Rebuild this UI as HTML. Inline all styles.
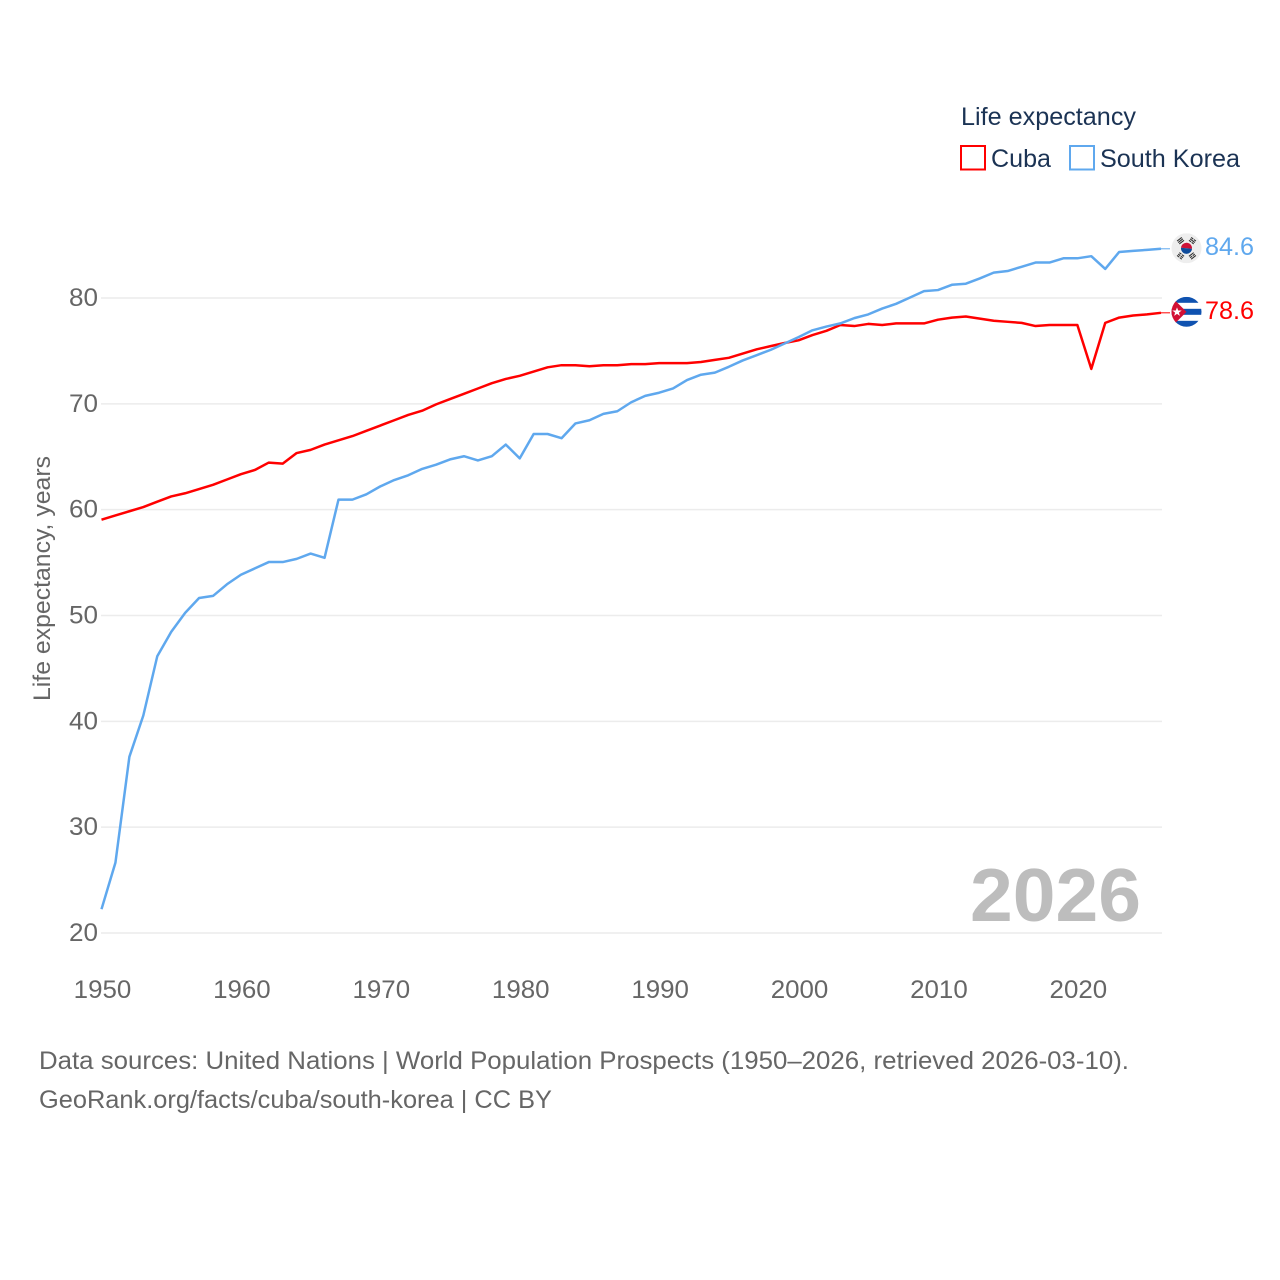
<!DOCTYPE html>
<html lang="en">
<head>
<meta charset="utf-8">
<title>Life expectancy: Cuba and South Korea</title>
<style>
html,body{margin:0;padding:0;background:#fff;}
svg{display:block;font-family:"Liberation Sans",sans-serif;}
</style>
</head>
<body>
<svg id="chart" width="1280" height="1280" viewBox="0 0 1280 1280" xmlns="http://www.w3.org/2000/svg">
  <defs>
    <clipPath id="flag-clip"><circle cx="0" cy="0" r="15"></circle></clipPath>
  </defs>
  <rect width="1280" height="1280" fill="#ffffff"></rect>

  <g>
    <text x="961" y="125" font-size="25" fill="#1b3354" textLength="175" lengthAdjust="spacingAndGlyphs">Life expectancy</text>
    <rect x="961" y="146" width="24" height="23.5" fill="#fff" stroke="#ff0000" stroke-width="2"></rect>
    <text x="991" y="167" font-size="25" fill="#1b3354" textLength="60" lengthAdjust="spacingAndGlyphs">Cuba</text>
    <rect x="1070" y="146" width="24" height="23.5" fill="#fff" stroke="#5fa8ee" stroke-width="2"></rect>
    <text x="1100" y="167" font-size="25" fill="#1b3354" textLength="140" lengthAdjust="spacingAndGlyphs">South Korea</text>
  </g>

  <text transform="translate(50,701) rotate(-90)" font-size="24.5" fill="#666666" textLength="245" lengthAdjust="spacingAndGlyphs">Life expectancy, years</text>

  <g id="grid"></g>
  <g id="y-axis"></g>
  <g id="x-axis"></g>

  <text x="1141" y="921" text-anchor="end" font-size="75" font-weight="700" fill="#bdbdbd" textLength="171" lengthAdjust="spacingAndGlyphs">2026</text>

  <g id="series"></g>

  <g id="flag-south-korea">
    <g clip-path="url(#flag-clip)">
      <rect x="-15" y="-15" width="30" height="30" fill="#eeeeee"></rect>
      <path d="M-5.5 -0.5 A5.5 5.5 0 0 1 5.5 0.5 Z" fill="#cd1238"></path>
      <path d="M-5.5 -0.5 A5.5 5.5 0 0 0 5.5 0.5 Z" fill="#0f4c9c"></path>
      <g fill="#333">
        <g transform="rotate(-38)">
          <rect x="-3" y="-12" width="6" height="1.1"></rect>
          <rect x="-3" y="-10.2" width="6" height="1.1"></rect>
          <rect x="-3" y="-8.4" width="6" height="1.1"></rect>
        </g>
        <g transform="rotate(38)">
          <rect x="-3" y="-12" width="2.6" height="1.1"></rect>
          <rect x="0.4" y="-12" width="2.6" height="1.1"></rect>
          <rect x="-3" y="-10.2" width="6" height="1.1"></rect>
          <rect x="-3" y="-8.4" width="2.6" height="1.1"></rect>
          <rect x="0.4" y="-8.4" width="2.6" height="1.1"></rect>
        </g>
        <g transform="rotate(142)">
          <rect x="-3" y="-12" width="6" height="1.1"></rect>
          <rect x="-3" y="-10.2" width="2.6" height="1.1"></rect>
          <rect x="0.4" y="-10.2" width="2.6" height="1.1"></rect>
          <rect x="-3" y="-8.4" width="6" height="1.1"></rect>
        </g>
        <g transform="rotate(218)">
          <rect x="-3" y="-12" width="2.6" height="1.1"></rect>
          <rect x="0.4" y="-12" width="2.6" height="1.1"></rect>
          <rect x="-3" y="-10.2" width="2.6" height="1.1"></rect>
          <rect x="0.4" y="-10.2" width="2.6" height="1.1"></rect>
          <rect x="-3" y="-8.4" width="2.6" height="1.1"></rect>
          <rect x="0.4" y="-8.4" width="2.6" height="1.1"></rect>
        </g>
      </g>
    </g>
  </g>

  <g id="flag-cuba">
    <g clip-path="url(#flag-clip)">
      <rect x="-15" y="-15" width="30" height="30" fill="#ffffff"></rect>
      <rect x="-15" y="-15" width="30" height="6" fill="#0f52b0"></rect>
      <rect x="-15" y="-3" width="30" height="6" fill="#0f52b0"></rect>
      <rect x="-15" y="9" width="30" height="6" fill="#0f52b0"></rect>
      <polygon points="-15,-15 0,0 -15,15" fill="#d21034"></polygon>
      <polygon points="-9.5,-4.5 -8.3,-1.3 -4.8,-1.3 -7.6,0.8 -6.6,4 -9.5,2.1 -12.4,4 -11.4,0.8 -14.2,-1.3 -10.7,-1.3" fill="#ffffff"></polygon>
    </g>
  </g>

  <g id="end-labels"></g>

  <g>
    <text x="39" y="1069" font-size="25" fill="#666666" textLength="1090" lengthAdjust="spacingAndGlyphs">Data sources: United Nations | World Population Prospects (1950–2026, retrieved 2026-03-10).</text>
    <text x="39" y="1108" font-size="25" fill="#666666" textLength="513" lengthAdjust="spacingAndGlyphs">GeoRank.org/facts/cuba/south-korea | CC BY</text>
  </g>
</svg>

<script>
const years = [1950,1951,1952,1953,1954,1955,1956,1957,1958,1959,1960,1961,1962,1963,1964,1965,1966,1967,1968,1969,1970,1971,1972,1973,1974,1975,1976,1977,1978,1979,1980,1981,1982,1983,1984,1985,1986,1987,1988,1989,1990,1991,1992,1993,1994,1995,1996,1997,1998,1999,2000,2001,2002,2003,2004,2005,2006,2007,2008,2009,2010,2011,2012,2013,2014,2015,2016,2017,2018,2019,2020,2021,2022,2023,2024,2025,2026];
const cubaValues = [59.05,59.45,59.85,60.25,60.75,61.25,61.55,61.95,62.35,62.85,63.35,63.75,64.45,64.35,65.35,65.65,66.15,66.55,66.95,67.45,67.95,68.45,68.95,69.35,69.95,70.45,70.95,71.45,71.95,72.35,72.65,73.05,73.45,73.65,73.65,73.55,73.65,73.65,73.75,73.75,73.85,73.85,73.85,73.95,74.15,74.35,74.75,75.15,75.45,75.75,76.0,76.5,76.9,77.45,77.35,77.55,77.45,77.6,77.6,77.6,77.95,78.15,78.25,78.05,77.85,77.75,77.65,77.35,77.45,77.45,77.45,73.3,77.65,78.15,78.35,78.45,78.6];
const koreaValues = [22.25,26.65,36.65,40.55,46.15,48.45,50.25,51.65,51.85,52.95,53.85,54.45,55.05,55.05,55.35,55.85,55.45,60.95,60.95,61.45,62.2,62.8,63.25,63.85,64.25,64.75,65.05,64.65,65.05,66.15,64.85,67.15,67.15,66.75,68.15,68.45,69.05,69.3,70.15,70.75,71.05,71.45,72.25,72.75,72.95,73.5,74.1,74.6,75.1,75.7,76.3,76.95,77.3,77.6,78.1,78.45,79.0,79.45,80.05,80.65,80.75,81.25,81.35,81.85,82.4,82.55,82.95,83.35,83.35,83.75,83.75,83.95,82.75,84.35,84.45,84.55,84.65];
const xTickLabels = [1950,1960,1970,1980,1990,2000,2010,2020];
const yTickLabels = [20,30,40,50,60,70,80];
const cubaEndLabel = "78.6";
const koreaEndLabel = "84.6";

const SVGNS = "http://www.w3.org/2000/svg";
const xScale = function (year) { return 101.5 + (year - 1950) * (1161 - 101.5) / 76; };
const yScale = function (value) { return 933 - (value - 20) * (933 - 298) / 60; };

const grid = document.getElementById("grid");
const yAxis = document.getElementById("y-axis");
const xAxis = document.getElementById("x-axis");
const series = document.getElementById("series");
const endLabels = document.getElementById("end-labels");

yTickLabels.forEach(function (tick) {
  const line = document.createElementNS(SVGNS, "line");
  
  
  line.setAttribute("x1", 101);
  line.setAttribute("x2", 1162);
  line.setAttribute("y1", yScale(tick));
  line.setAttribute("y2", yScale(tick));
  line.setAttribute("stroke", "#ececec");
  line.setAttribute("stroke-width", "1.5");
  grid.appendChild(line);

  const label = document.createElementNS(SVGNS, "text");
  
  
  label.setAttribute("x", 98);
  label.setAttribute("y", yScale(tick) + 8);
  label.setAttribute("text-anchor", "end");
  label.setAttribute("font-size", "25");
  label.setAttribute("fill", "#666666");
  label.setAttribute("textLength", String(tick).length * 14.5);
  label.setAttribute("lengthAdjust", "spacingAndGlyphs");
  label.textContent = tick;
  yAxis.appendChild(label);
});

xTickLabels.forEach(function (tick) {
  const label = document.createElementNS(SVGNS, "text");
  
  
  label.setAttribute("x", xScale(tick) + 1);
  label.setAttribute("y", 998);
  label.setAttribute("text-anchor", "middle");
  label.setAttribute("font-size", "25");
  label.setAttribute("fill", "#666666");
  label.setAttribute("textLength", String(tick).length * 14.4);
  label.setAttribute("lengthAdjust", "spacingAndGlyphs");
  label.textContent = tick;
  xAxis.appendChild(label);
});

function pathFor(values) {
  return values.map(function (v, i) {
    return (i ? "L" : "M") + xScale(years[i]).toFixed(2) + " " + yScale(v).toFixed(2);
  }).join(" ");
}

const cubaLine = document.createElementNS(SVGNS, "path");


cubaLine.setAttribute("d", pathFor(cubaValues));
cubaLine.setAttribute("fill", "none");
cubaLine.setAttribute("stroke", "#ff0000");
cubaLine.setAttribute("stroke-width", "2.5");
cubaLine.setAttribute("stroke-linejoin", "round");
series.appendChild(cubaLine);

const koreaLine = document.createElementNS(SVGNS, "path");


koreaLine.setAttribute("d", pathFor(koreaValues));
koreaLine.setAttribute("fill", "none");
koreaLine.setAttribute("stroke", "#5fa8ee");
koreaLine.setAttribute("stroke-width", "2.5");
koreaLine.setAttribute("stroke-linejoin", "round");
series.appendChild(koreaLine);

const cubaEndY = yScale(cubaValues[cubaValues.length - 1]);
const koreaEndY = yScale(koreaValues[koreaValues.length - 1]);

const cubaConnector = document.createElementNS(SVGNS, "line");


cubaConnector.setAttribute("x1", 1161);
cubaConnector.setAttribute("x2", 1170);
cubaConnector.setAttribute("y1", cubaEndY);
cubaConnector.setAttribute("y2", cubaEndY);
cubaConnector.setAttribute("stroke", "#ff0000");
cubaConnector.setAttribute("stroke-width", "1");
series.appendChild(cubaConnector);

const koreaConnector = document.createElementNS(SVGNS, "line");


koreaConnector.setAttribute("x1", 1161);
koreaConnector.setAttribute("x2", 1170);
koreaConnector.setAttribute("y1", koreaEndY);
koreaConnector.setAttribute("y2", koreaEndY);
koreaConnector.setAttribute("stroke", "#5fa8ee");
koreaConnector.setAttribute("stroke-width", "1");
series.appendChild(koreaConnector);

document.getElementById("flag-cuba").setAttribute("transform", "translate(1186.5," + (cubaEndY - 1) + ")");
document.getElementById("flag-south-korea").setAttribute("transform", "translate(1186.5," + (koreaEndY - 0.5) + ")");

const cubaLabel = document.createElementNS(SVGNS, "text");


cubaLabel.setAttribute("x", 1205);
cubaLabel.setAttribute("y", cubaEndY + 6);
cubaLabel.setAttribute("font-size", "25");
cubaLabel.setAttribute("fill", "#ff0000");
cubaLabel.setAttribute("textLength", "49");
cubaLabel.setAttribute("lengthAdjust", "spacingAndGlyphs");
cubaLabel.textContent = cubaEndLabel;
endLabels.appendChild(cubaLabel);

const koreaLabel = document.createElementNS(SVGNS, "text");


koreaLabel.setAttribute("x", 1205);
koreaLabel.setAttribute("y", koreaEndY + 6);
koreaLabel.setAttribute("font-size", "25");
koreaLabel.setAttribute("fill", "#5fa8ee");
koreaLabel.setAttribute("textLength", "49");
koreaLabel.setAttribute("lengthAdjust", "spacingAndGlyphs");
koreaLabel.textContent = koreaEndLabel;
endLabels.appendChild(koreaLabel);
</script>
</body>
</html>
